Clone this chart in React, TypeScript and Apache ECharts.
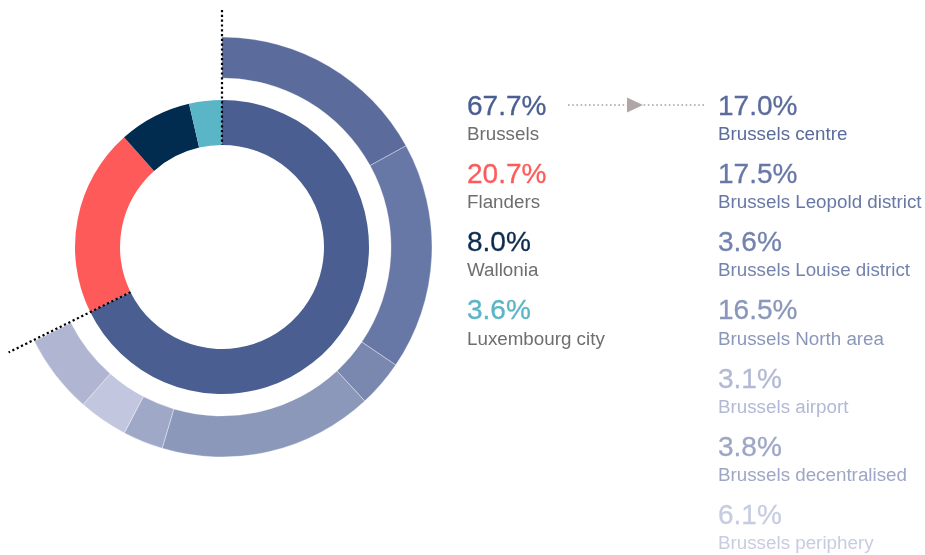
import React, { useEffect, useRef } from "react";
import * as echarts from "echarts";

const regions = ["Brussels", "Flanders", "Wallonia", "Luxembourg city"];
const regionShares = [67.7, 20.7, 8.0, 3.6];
const regionColors = ["#4a5e92", "#ff5a5a", "#022b50", "#5ab5c6"];
const regionTextColors = ["#4a5e92", "#ff5a5a", "#0d2b4e", "#5ab5c6"];

const subareas = [
  "Brussels centre",
  "Brussels Leopold district",
  "Brussels Louise district",
  "Brussels North area",
  "Brussels airport",
  "Brussels decentralised",
  "Brussels periphery",
];
const subShares = [17.0, 17.5, 3.6, 16.5, 3.1, 3.8, 6.1];
const subColors = ["#5a6b9c", "#6878a6", "#7a88b0", "#8b98ba", "#a0a8c8", "#c2c6de", "#b0b5d2"];
const subTextColors = ["#5a6b9c", "#6878a6", "#7383ad", "#8b97ba", "#b3b9d5", "#9ea6c6", "#c8cce0"];

const FONT = "'Liberation Sans', Arial, Helvetica, sans-serif";

export default function App() {
  const ref = useRef<HTMLDivElement>(null);
  useEffect(() => {
    if (!ref.current) return;
    const chart = echarts.init(ref.current, undefined, { renderer: "svg" });
    const cx = 222;
    const cy = 247;
    const subTotal = subShares.reduce((a, b) => a + b, 0);
    const brusselsAngle = (regionShares[0] / 100) * 2 * Math.PI;
    const dirX = Math.sin(brusselsAngle);
    const dirY = -Math.cos(brusselsAngle);

    const rowY0 = 115;
    const rowStep = 68.2;
    const pctFs = 28;
    const labFs = 18.8;
    const pctOff = 0.3465 * pctFs;
    const labOff = 0.3465 * labFs;

    const texts: any[] = [];
    regions.forEach((r, i) => {
      const base = rowY0 + i * rowStep;
      texts.push({
        type: "text", x: 467, y: base - pctOff, z: 100,
        style: { text: regionShares[i].toFixed(1) + "%", fill: regionTextColors[i], font: `${pctFs}px ${FONT}`, textVerticalAlign: "middle", verticalAlign: "middle", stroke: regionTextColors[i], lineWidth: 0.3 },
      });
      texts.push({
        type: "text", x: 467, y: base + 25 - labOff, z: 100,
        style: { text: r, fill: "#6e6e6e", font: `${labFs}px ${FONT}`, textVerticalAlign: "middle", verticalAlign: "middle" },
      });
    });
    subareas.forEach((s, i) => {
      const base = rowY0 + i * rowStep;
      texts.push({
        type: "text", x: 718, y: base - pctOff, z: 100,
        style: { text: subShares[i].toFixed(1) + "%", fill: subTextColors[i], font: `${pctFs}px ${FONT}`, textVerticalAlign: "middle", verticalAlign: "middle", stroke: subTextColors[i], lineWidth: 0.3 },
      });
      texts.push({
        type: "text", x: 718, y: base + 25 - labOff, z: 100,
        style: { text: s, fill: subTextColors[i], font: `${labFs}px ${FONT}`, textVerticalAlign: "middle", verticalAlign: "middle" },
      });
    });

    const option: any = {
      animation: false,
      series: [
        {
          type: "pie",
          silent: true,
          center: [cx, cy],
          radius: [102, 147],
          startAngle: 90,
          clockwise: true,
          label: { show: false },
          labelLine: { show: false },
          data: regions.map((r, i) => ({ name: r, value: regionShares[i], itemStyle: { color: regionColors[i] } })),
        },
        {
          type: "pie",
          silent: true,
          center: [cx, cy],
          radius: [169, 210],
          startAngle: 90,
          clockwise: true,
          label: { show: false },
          labelLine: { show: false },
          data: [
            ...subareas.map((s, i) => ({
              name: s,
              value: subShares[i],
              itemStyle: { color: subColors[i], borderColor: "rgba(255,255,255,0.6)", borderWidth: 0.6 },
            })),
            { name: "rest", value: 100 - subTotal, itemStyle: { color: "rgba(0,0,0,0)", borderWidth: 0 } },
          ],
        },
      ],
      graphic: [
        {
          type: "line", z: 100,
          shape: { x1: cx, y1: 10, x2: cx, y2: cy - 102 },
          style: { stroke: "#000", lineWidth: 2.2, lineDash: [2.2, 2.6] },
        },
        {
          type: "line", z: 100,
          shape: { x1: cx + dirX * 102, y1: cy + dirY * 102, x2: cx + dirX * 238, y2: cy + dirY * 238 },
          style: { stroke: "#000", lineWidth: 2.2, lineDash: [2.2, 2.6] },
        },
        {
          type: "line", z: 100,
          shape: { x1: 568, y1: 105, x2: 704, y2: 105 },
          style: { stroke: "#a89e9e", lineWidth: 1.6, lineDash: [1.6, 2.6] },
        },
        {
          type: "polygon", z: 101,
          shape: { points: [[627, 97.5], [643, 105], [627, 112.5]] },
          style: { fill: "#b1a6a6" },
        },
        ...texts,
      ],
    };
    chart.setOption(option);
    return () => chart.dispose();
  }, []);
  return <div ref={ref} style={{ position: "fixed", left: 0, top: 0, width: 925, height: 555 }} />;
}
